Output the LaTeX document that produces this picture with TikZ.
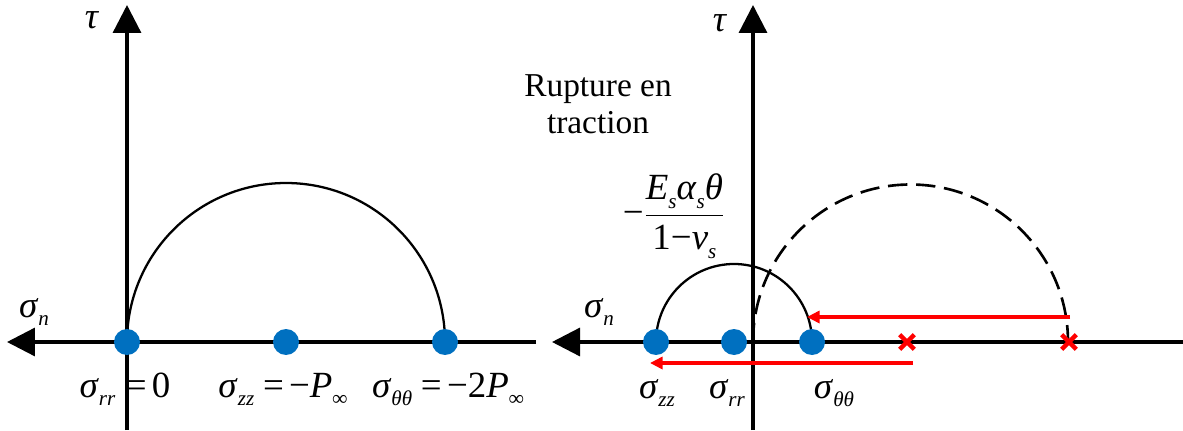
\documentclass[tikz,border=0pt]{standalone}
\usepackage{fontspec}
\setmainfont{Liberation Serif}
\usetikzlibrary{arrows.meta,shapes.misc}
\definecolor{dotblue}{HTML}{0070C0}
\newcommand{\ms}[1]{\textit{#1}}
\newcommand{\sbs}[1]{\raisebox{-5pt}{\fontsize{12}{12}\selectfont\itshape #1}}
\tikzset{
  axis/.style={line width=1.9pt, -{Triangle[length=0.56cm,width=0.56cm]}},
  mohr/.style={line width=1.3pt},
  mohrdash/.style={line width=1.5pt, dash pattern=on 11pt off 5pt},
  dot/.style={circle, fill=dotblue, minimum size=0.52cm, inner sep=0pt},
  xmark/.style={cross out, draw=red, line width=2.6pt, minimum size=0.2cm, inner sep=0pt},
  redarrow/.style={red, line width=1.9pt, -{Triangle[length=0.25cm,width=0.24cm]}},
  lab/.style={font=\fontsize{21}{24}\selectfont, inner sep=0pt, anchor=base},
  txt/.style={font=\fontsize{19}{21}\selectfont, align=center, inner sep=0pt}
}
\begin{document}
\begin{tikzpicture}[x=0.02cm, y=0.02cm]
\useasboundingbox (0,0) rectangle (1183,430);
% ---------------- left diagram ----------------
\coordinate (L0) at (127,0);
\coordinate (Ltop) at (127,425);
\coordinate (Lr) at (536,88);
\coordinate (Ll) at (7,88);
\draw[mohr] (127,88) arc[start angle=180, end angle=0, radius=159];
\draw[axis] (L0) -- (Ltop);
\draw[axis] (Lr) -- (Ll);
\node[dot] (a1) at (127,88) {};
\node[dot] (a2) at (286,88) {};
\node[dot] (a3) at (445,88) {};
\node[lab, anchor=center] (tauL) at (92,410) {\ms{τ}};
\node[lab, anchor=center] (snL) at (34,118) {\ms{σ}\sbs{n}};
\node[lab] (l1) at (125,33) {\ms{σ}\sbs{rr}\hspace{6pt}=\hspace{3pt}0};
\node[lab] (l2) at (283,33) {\ms{σ}\sbs{zz}\hspace{5pt}=\hspace{3pt}−\ms{P}\sbs{∞}};
\node[lab] (l3) at (448,33) {\ms{σ}\sbs{θθ}\hspace{5pt}=\hspace{3pt}−2\ms{P}\sbs{∞}};
% ---------------- right diagram ----------------
\coordinate (R0) at (753,0);
\coordinate (Rtop) at (753,425);
\coordinate (Rr) at (1183,88);
\coordinate (Rl) at (552,88);
\coordinate (O) at (753,88);
\draw[mohr] (656,88) arc[start angle=180, end angle=0, radius=78];
\draw[mohrdash] (O) arc[start angle=180, end angle=0, radius=157.5];
\draw[axis] (R0) -- (Rtop);
\draw[axis] (Rr) -- (Rl);
\node[dot] (b1) at (656,88) {};
\node[dot] (b2) at (734,88) {};
\node[dot] (b3) at (812,88) {};
\node[xmark] (x1) at (907,88) {};
\node[xmark] (x2) at (1069,88) {};
\coordinate (ua) at (1070,113);
\coordinate (ub) at (807,113);
\coordinate (la) at (913,67);
\coordinate (lb) at (650,67);
\draw[redarrow] (ua) -- (ub);
\draw[redarrow] (la) -- (lb);
\node[lab, anchor=center] (tauR) at (720,407) {\ms{τ}};
\node[lab, anchor=center] (snR) at (599,118) {\ms{σ}\sbs{n}};
\node[txt] (rupt) at (598,326) {Rupture en\\traction};
\node[lab, anchor=center] (frac) at (674,214) {$\hbox{−}\displaystyle\frac{\hbox{\ms{E}\sbs{s}\ms{α}\sbs{s}\ms{θ}}\vphantom{\rule[-5pt]{0pt}{1pt}}}{\hbox{\rule{0pt}{18pt}1−\ms{ν}\sbs{s}}}$};
\node[lab] (r1) at (657,32) {\ms{σ}\sbs{zz}};
\node[lab] (r2) at (727,32) {\ms{σ}\sbs{rr}};
\node[lab] (r3) at (834,32) {\ms{σ}\sbs{θθ}};
\end{tikzpicture}
\end{document}
